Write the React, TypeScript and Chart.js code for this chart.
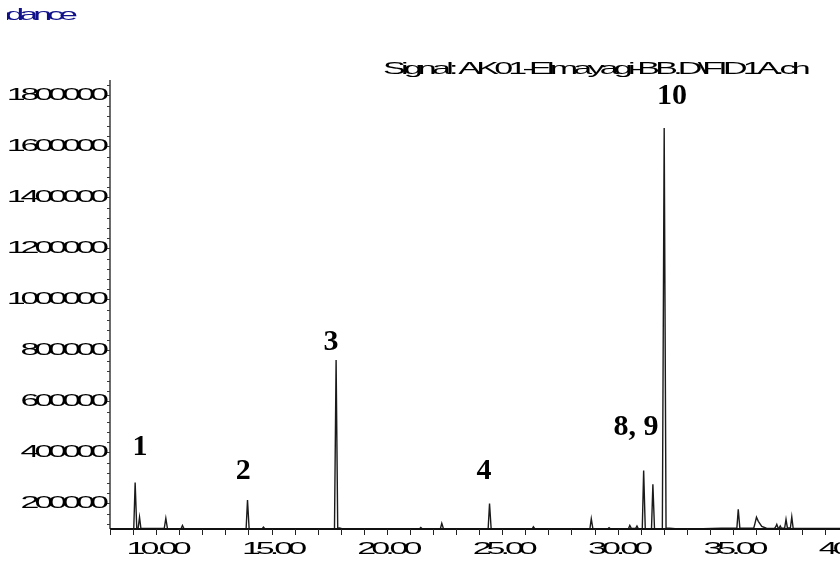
import React, { useEffect, useRef } from "react";
import { Chart, registerables } from "chart.js";

Chart.register(...registerables);

// Chromatogram trace: retention time (min) and detector response
const retentionTimes = [
  8.0, 9.03, 9.09, 9.16, 9.22, 9.28, 9.34,
  10.35, 10.42, 10.49,
  11.08, 11.14, 11.21,
  13.9, 13.96, 14.03,
  14.6, 14.65, 14.71,
  17.73, 17.8, 17.87, 17.95, 18.05,
  21.42, 21.47, 21.53,
  22.32, 22.38, 22.45,
  24.39, 24.45, 24.52,
  26.3, 26.35, 26.41,
  28.8, 28.86, 28.93,
  29.58, 29.63, 29.69,
  30.47, 30.53, 30.6, 30.78, 30.84, 30.9,
  31.07, 31.13, 31.2,
  31.47, 31.53, 31.6,
  31.94, 32.02, 32.1, 32.25, 32.5,
  33.7, 34.5, 35.1, 35.17, 35.23, 35.3,
  35.9, 35.95, 36.02, 36.1, 36.25, 36.45,
  36.8, 36.85, 36.9, 36.96, 37.0, 37.05, 37.1,
  37.24, 37.3, 37.36, 37.49, 37.55, 37.61, 39.7,
];
const abundance = [
  101000, 101000, 282000, 102000, 103000, 146000, 102000,
  102000, 142000, 102000,
  101000, 114000, 101000,
  101000, 214000, 101000,
  101000, 107000, 101000,
  101000, 762000, 102000, 104000, 101000,
  101000, 106000, 101000,
  101000, 122000, 102000,
  101000, 200000, 101000,
  101000, 109000, 101000,
  101000, 140000, 101000,
  101000, 105000, 101000,
  101000, 114000, 102000, 102000, 112000, 101000,
  101000, 329000, 101000,
  101000, 275000, 101000,
  101000, 1672000, 104000, 103000, 101000,
  101000, 103000, 103000, 103000, 177000, 103000,
  103000, 120000, 146000, 130000, 110000, 103000,
  102000, 108000, 118000, 103000, 104000, 112000, 103000,
  103000, 138000, 104000, 104000, 148000, 103000, 102000,
];

// Axis ticks
const xTickLabels = ["10.00", "15.00", "20.00", "25.00", "30.00", "35.00", "40.00"];
const xTickValues = [10, 15, 20, 25, 30, 35, 40];
const yTickLabels = ["200000", "400000", "600000", "800000", "1000000", "1200000", "1400000", "1600000", "1800000"];
const yTickValues = [200000, 400000, 600000, 800000, 1000000, 1200000, 1400000, 1600000, 1800000];

// Peak annotations (anchor in data space)
const peakLabels = ["1", "2", "3", "4", "8, 9", "10"];
const peakLabelTimes = [9.3, 13.77, 17.58, 24.21, 30.8, 32.36];
const peakLabelValues = [420000, 327000, 833000, 327000, 500000, 1798000];

const titleText = "Signal: AK01-Elmayagi-BB.D\\FID1A.ch";
const yAxisTitle = "Abundance";

const SANS = '"Liberation Sans", Arial, sans-serif';

function drawStretched(
  ctx: CanvasRenderingContext2D,
  text: string,
  x: number,
  y: number,
  align: "left" | "right" | "center",
  color = "#000",
  spacing = -2.5
) {
  const size = 17;
  const sx = 2.0;
  ctx.save();
  ctx.font = `${size}px ${SANS}`;
  (ctx as any).letterSpacing = `${spacing}px`;
  const w = (ctx.measureText(text).width - spacing) * sx;
  const left = align === "left" ? x : align === "right" ? x - w : x - w / 2;
  ctx.translate(left, y);
  ctx.scale(sx, 1);
  ctx.textBaseline = "middle";
  ctx.textAlign = "left";
  ctx.fillStyle = color;
  ctx.fillText(text, 0, 0);
  ctx.restore();
}

const axesPlugin = {
  id: "chromAxes",
  afterDraw(chart: any) {
    const ctx: CanvasRenderingContext2D = chart.ctx;
    const xs = chart.scales.x;
    const ys = chart.scales.y;
    const area = chart.chartArea;
    const x0 = area.left;
    const yb = area.bottom;

    ctx.save();
    // y axis
    ctx.strokeStyle = "#3a3a3a";
    ctx.lineWidth = 1.5;
    ctx.beginPath();
    ctx.moveTo(x0, area.top);
    ctx.lineTo(x0, yb);
    ctx.stroke();
    // y minor ticks
    ctx.lineWidth = 1;
    for (let v = 120000; v <= 1840000; v += 40000) {
      const py = Math.round(ys.getPixelForValue(v)) + 0.5;
      ctx.beginPath();
      ctx.moveTo(x0 - 3, py);
      ctx.lineTo(x0, py);
      ctx.stroke();
    }
    // x axis
    ctx.strokeStyle = "#111";
    ctx.lineWidth = 2;
    ctx.beginPath();
    ctx.moveTo(x0, yb);
    ctx.lineTo(area.right + 20, yb);
    ctx.stroke();
    // x ticks every minute
    ctx.lineWidth = 1;
    ctx.strokeStyle = "#222";
    for (let t = 8; t <= 41; t += 1) {
      const px = Math.round(xs.getPixelForValue(t)) + 0.5;
      ctx.beginPath();
      ctx.moveTo(px, yb);
      ctx.lineTo(px, yb + 6);
      ctx.stroke();
    }
    ctx.restore();

    // labels
    yTickLabels.forEach((lab, i) => {
      drawStretched(ctx, lab, x0 - 1, ys.getPixelForValue(yTickValues[i]), "right");
    });
    xTickLabels.forEach((lab, i) => {
      drawStretched(ctx, lab, xs.getPixelForValue(xTickValues[i]) + 3, yb + 20, "center");
    });
    drawStretched(ctx, titleText, 383, 69, "left", "#000", -2.38);

    // y axis title, cut at the page's left margin as in the original export
    ctx.save();
    ctx.beginPath();
    ctx.rect(7, 0, 200, 40);
    ctx.clip();
    drawStretched(ctx, yAxisTitle, 78, 15, "right", "#10108a");
    ctx.restore();

    // peak annotations
    ctx.save();
    ctx.font = `bold 30px "Liberation Serif", "Times New Roman", serif`;
    ctx.fillStyle = "#000";
    ctx.textAlign = "center";
    ctx.textBaseline = "middle";
    peakLabels.forEach((lab, i) => {
      ctx.fillText(lab, xs.getPixelForValue(peakLabelTimes[i]), ys.getPixelForValue(peakLabelValues[i]));
    });
    ctx.restore();
  },
};

export default function App() {
  const ref = useRef<HTMLCanvasElement>(null);
  useEffect(() => {
    if (!ref.current) return;
    const points = retentionTimes.map((t, i) => ({ x: t, y: abundance[i] }));
    const chart = new Chart(ref.current, {
      type: "line",
      data: {
        datasets: [
          {
            data: points,
            borderColor: "#1a1a1a",
            borderWidth: 1.4,
            pointRadius: 0,
            tension: 0,
            fill: false,
          },
        ],
      },
      options: {
        responsive: false,
        animation: false,
        layout: { padding: { left: 110, top: 80, right: 0, bottom: 38 } },
        plugins: { legend: { display: false }, tooltip: { enabled: false } },
        scales: {
          x: { type: "linear", display: false, min: 8, max: 39.64 },
          y: { type: "linear", display: false, min: 100000, max: 1860000 },
        },
      },
      plugins: [axesPlugin],
    });
    return () => chart.destroy();
  }, []);
  return (
    <div style={{ position: "fixed", left: 0, top: 0, width: 840, height: 567, overflow: "hidden", background: "#fff" }}>
      <canvas ref={ref} width={840} height={567} style={{ display: "block" }} />
    </div>
  );
}
